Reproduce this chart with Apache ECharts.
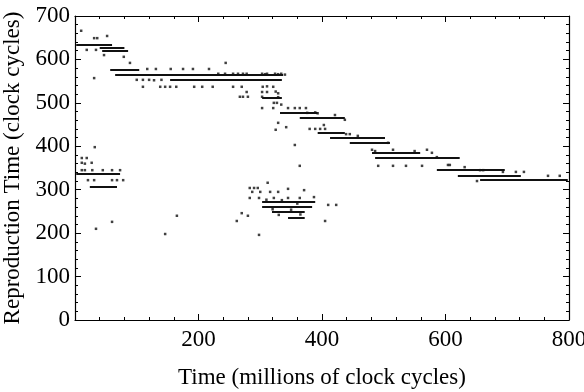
<!DOCTYPE html>
<html>
<head>
<meta charset="utf-8">
<script src="https://cdn.jsdelivr.net/npm/echarts@6/dist/echarts.min.js"></script>
<style>
  html, body { margin: 0; padding: 0; background: #fff; }
  #chart { width: 584px; height: 392px; }
</style>
</head>
<body>
<div id="chart"></div>
<script>
// dense runs of dots, read as [y, xFrom, xTo]
const bandY    = [634, 628, 620, 576, 564, 553, 511, 477, 465, 431, 419, 408, 385, 373, 345, 332, 322, 337, 306, 272, 260, 249, 236];
const bandFrom = [2,   40,  44,  57,  65,  154, 303, 332, 364, 393, 413, 445, 481, 486, 586, 620, 656, 2,   24,  303, 303, 319, 345];
const bandTo   = [60,  80,  86,  104, 337, 335, 335, 393, 437, 437, 502, 510, 559, 623, 696, 722, 798, 73,  68,  389, 384, 372, 372];

// scattered single dots [x, y]
const upperDots = [
  [10, 666], [31, 649], [36, 649], [52, 654], [19, 622], [34, 622], [47, 610], [79, 606], [89, 592], [31, 557],
  [117, 578], [131, 578], [155, 578], [175, 578], [191, 578], [217, 578], [244, 592],
  [110, 537], [138, 537], [146, 537], [154, 537], [164, 537], [193, 537], [206, 537], [223, 537], [256, 537], [270, 537],
  [232, 567], [243, 567], [256, 567], [264, 567], [272, 567], [278, 567],
  [100, 553], [110, 553], [120, 553], [128, 552], [140, 553],
  [278, 525], [267, 514], [272, 514], [280, 514],
  [303, 567], [308, 566], [311, 567], [324, 567], [329, 566], [334, 567], [340, 565],
  [304, 537], [311, 538], [321, 537], [303, 525], [311, 525], [325, 526], [329, 522], [303, 514], [329, 513],
  [322, 500], [327, 500], [334, 496], [303, 488], [321, 488], [345, 488], [356, 488], [364, 488], [374, 488],
  [376, 477], [389, 478], [393, 476], [421, 472], [437, 461], [329, 454], [342, 444], [325, 438],
  [380, 440], [389, 440], [397, 440], [405, 440], [403, 449], [439, 428], [445, 428], [458, 424],
  [356, 403], [364, 355], [481, 392], [486, 389], [515, 392], [507, 408],
  [550, 389], [570, 392], [578, 385], [586, 375], [491, 355], [515, 355], [536, 355], [562, 355],
  [604, 357], [607, 357], [631, 352], [656, 345], [661, 345], [693, 341], [714, 341], [727, 341],
  [651, 320], [766, 332], [785, 332]
];

const lowerLeftDots = [
  [32, 398], [11, 373], [19, 373], [11, 362], [16, 360], [27, 362],
  [11, 345], [16, 345], [28, 345], [45, 345], [60, 345], [73, 345],
  [21, 322], [31, 322], [60, 322], [68, 322], [78, 322],
  [34, 210], [60, 226], [165, 240], [146, 198]
];

const lowerMidDots = [
  [312, 316], [345, 302], [371, 299], [283, 304], [290, 304], [296, 304],
  [287, 295], [300, 295], [316, 295], [329, 295],
  [283, 281], [298, 281], [322, 281], [345, 281], [364, 281], [387, 283],
  [410, 265], [423, 265], [405, 228], [270, 246], [262, 228], [280, 240], [298, 196],
  [310, 277], [335, 276], [360, 268], [320, 255], [350, 254], [330, 242], [365, 243]
];

const xMin = 0, xMax = 800, xStep = 200;
const yMin = 0, yMax = 700, yStep = 100;

const serif = "'Liberation Serif', 'DejaVu Serif', serif";

const bandLines = bandY.map((y, i) => ({ coords: [[bandFrom[i], y], [bandTo[i], y]] }));

const chart = echarts.init(document.getElementById("chart"));

function frameAxis(pos, min, max, step) {
  return {
    type: "value",
    position: pos,
    min: min,
    max: max,
    interval: step,
    axisLine: { show: true, onZero: false, lineStyle: { color: "#000", width: 1.2 } },
    axisTick: { show: true, inside: true, length: 6, lineStyle: { color: "#000" } },
    minorTick: { show: true, splitNumber: 5, length: 3, lineStyle: { color: "#000" } },
    axisLabel: { show: false },
    splitLine: { show: false },
  };
}

const option = {
  animation: false,
  backgroundColor: "#fff",
  grid: { left: 75, top: 16, width: 494, height: 304, containLabel: false, outerBoundsMode: "none" },
  xAxis: [
    {
      ...frameAxis("bottom", xMin, xMax, xStep),
      name: "Time (millions of clock cycles)",
      nameLocation: "middle",
      nameGap: 46,
      nameTextStyle: { fontFamily: serif, fontSize: 23, color: "#000" },
      axisLabel: {
        show: true,
        margin: 8,
        fontFamily: serif,
        fontSize: 23,
        color: "#000",
        formatter: (v) => (v === 0 ? "" : String(v)),
      },
    },
    frameAxis("top", xMin, xMax, xStep),
  ],
  yAxis: [
    {
      ...frameAxis("left", yMin, yMax, yStep),
      name: "Reproduction Time (clock cycles)",
      nameLocation: "middle",
      nameGap: 49,
      nameTextStyle: { fontFamily: serif, fontSize: 23, color: "#000" },
      axisLabel: { show: true, margin: 5, fontFamily: serif, fontSize: 23, color: "#000" },
    },
    frameAxis("right", yMin, yMax, yStep),
  ],
  series: [
    {
      type: "lines",
      coordinateSystem: "cartesian2d",
      xAxisIndex: 0,
      yAxisIndex: 0,
      silent: true,
      lineStyle: { color: "#111", width: 2, opacity: 1 },
      data: bandLines,
    },
    {
      type: "scatter",
      xAxisIndex: 0,
      yAxisIndex: 0,
      symbol: "rect",
      symbolSize: 2.5,
      itemStyle: { color: "#111" },
      data: upperDots.concat(lowerLeftDots, lowerMidDots),
    },
  ],
};

chart.setOption(option);
</script>
</body>
</html>
